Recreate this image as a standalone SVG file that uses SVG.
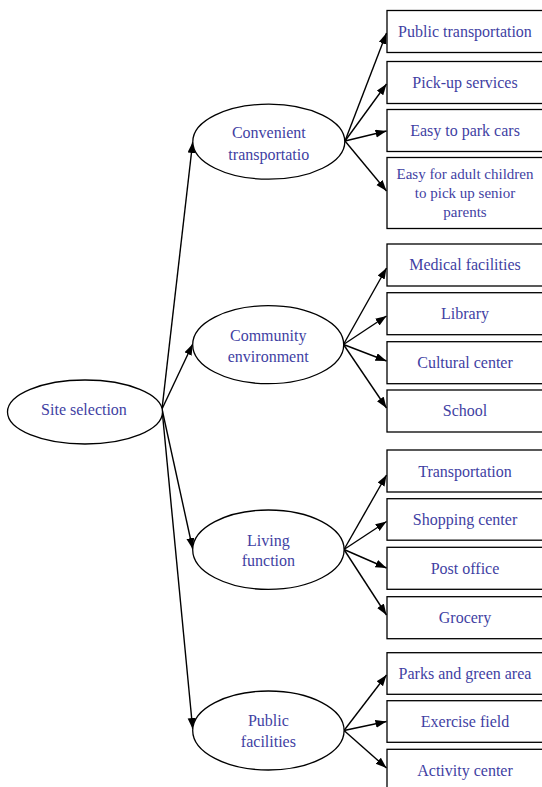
<svg xmlns="http://www.w3.org/2000/svg" width="542" height="787" viewBox="0 0 542 787">
  <defs>
    <marker id="arrow" markerUnits="userSpaceOnUse" markerWidth="12" markerHeight="9" refX="11" refY="4" orient="auto">
      <path d="M0,0 L11,4 L0,8 z" fill="#000"/>
    </marker>
    <style>
      .node ellipse, .node rect { fill: #fff; stroke: #000; stroke-width: 1.3; }
      .node text { font-family: "Liberation Serif", "Times New Roman", serif; font-size: 16px; fill: #3f3fa3; text-anchor: middle; }
      .node text.small { font-size: 15px; }
      .edges line { stroke: #000; stroke-width: 1.4; marker-end: url(#arrow); }
    </style>
  </defs>
  <rect width="542" height="787" fill="#fff"/>

  <!-- connectors -->
  <g id="edges" class="edges">
    <!-- root to categories -->
    <line x1="162" y1="409" x2="192.7" y2="142"/>
    <line x1="162" y1="409" x2="192.7" y2="344"/>
    <line x1="162" y1="409" x2="192.7" y2="549"/>
    <line x1="162" y1="409" x2="192.7" y2="729"/>
    <!-- Convenient transportation -->
    <line x1="345" y1="141" x2="386.5" y2="33"/>
    <line x1="345" y1="141" x2="386.5" y2="84"/>
    <line x1="345" y1="141" x2="386.5" y2="131"/>
    <line x1="345" y1="141" x2="386.5" y2="191"/>
    <!-- Community environment -->
    <line x1="343.5" y1="344.5" x2="386.5" y2="268"/>
    <line x1="343.5" y1="344.5" x2="386.5" y2="316"/>
    <line x1="343.5" y1="344.5" x2="386.5" y2="361"/>
    <line x1="343.5" y1="344.5" x2="386.5" y2="408"/>
    <!-- Living function -->
    <line x1="344" y1="549.5" x2="386.5" y2="475"/>
    <line x1="344" y1="549.5" x2="386.5" y2="521.5"/>
    <line x1="344" y1="549.5" x2="386.5" y2="568"/>
    <line x1="344" y1="549.5" x2="386.5" y2="615"/>
    <!-- Public facilities -->
    <line x1="344" y1="730.5" x2="386.5" y2="675"/>
    <line x1="344" y1="730.5" x2="386.5" y2="721.5"/>
    <line x1="344" y1="730.5" x2="386.5" y2="768"/>
  </g>

  <!-- root -->
  <g id="site-selection" class="node">
    <ellipse cx="85" cy="412" rx="77.5" ry="32"/>
    <text x="84" y="415">Site selection</text>
  </g>

  <!-- categories -->
  <g id="convenient-transportation" class="node">
    <ellipse cx="268.8" cy="141.7" rx="76" ry="37.5"/>
    <text x="268.8" y="138.3">Convenient</text>
    <text x="268.8" y="159.5">transportatio</text>
  </g>
  <g id="community-environment" class="node">
    <ellipse cx="268.2" cy="344.7" rx="75.5" ry="39"/>
    <text x="268.2" y="341">Community</text>
    <text x="268.2" y="361.7">environment</text>
  </g>
  <g id="living-function" class="node">
    <ellipse cx="268.4" cy="549.7" rx="75.7" ry="39.7"/>
    <text x="268.4" y="545.7">Living</text>
    <text x="268.4" y="565.5">function</text>
  </g>
  <g id="public-facilities" class="node">
    <ellipse cx="268.4" cy="730.5" rx="75.7" ry="39.5"/>
    <text x="268.4" y="725.7">Public</text>
    <text x="268.4" y="747.3">facilities</text>
  </g>

  <!-- Convenient transportation items -->
  <g id="public-transportation" class="node">
    <rect x="387" y="10.5" width="156" height="42"/>
    <text x="465" y="36.8">Public transportation</text>
  </g>
  <g id="pick-up-services" class="node">
    <rect x="387" y="61.5" width="156" height="42"/>
    <text x="465" y="87.8">Pick-up services</text>
  </g>
  <g id="easy-to-park-cars" class="node">
    <rect x="387" y="109.5" width="156" height="42"/>
    <text x="465" y="136">Easy to park cars</text>
  </g>
  <g id="easy-pick-up-parents" class="node">
    <rect x="387" y="157.5" width="156" height="71"/>
    <text class="small" x="465" y="179">Easy for adult children</text>
    <text class="small" x="465" y="198">to pick up senior</text>
    <text class="small" x="465" y="217">parents</text>
  </g>

  <!-- Community environment items -->
  <g id="medical-facilities" class="node">
    <rect x="387" y="244" width="156" height="42"/>
    <text x="465" y="270">Medical facilities</text>
  </g>
  <g id="library" class="node">
    <rect x="387" y="292.7" width="156" height="42"/>
    <text x="465" y="319.2">Library</text>
  </g>
  <g id="cultural-center" class="node">
    <rect x="387" y="341.7" width="156" height="42"/>
    <text x="465" y="368.2">Cultural center</text>
  </g>
  <g id="school" class="node">
    <rect x="387" y="390" width="156" height="42"/>
    <text x="465" y="416.4">School</text>
  </g>

  <!-- Living function items -->
  <g id="transportation" class="node">
    <rect x="387" y="450" width="156" height="42"/>
    <text x="465" y="476.7">Transportation</text>
  </g>
  <g id="shopping-center" class="node">
    <rect x="387" y="498.7" width="156" height="41.5"/>
    <text x="465" y="524.9">Shopping center</text>
  </g>
  <g id="post-office" class="node">
    <rect x="387" y="547.3" width="156" height="42"/>
    <text x="465" y="573.8">Post office</text>
  </g>
  <g id="grocery" class="node">
    <rect x="387" y="596.7" width="156" height="42"/>
    <text x="465" y="623.2">Grocery</text>
  </g>

  <!-- Public facilities items -->
  <g id="parks-green-area" class="node">
    <rect x="387" y="652.7" width="156" height="41.6"/>
    <text x="465" y="679">Parks and green area</text>
  </g>
  <g id="exercise-field" class="node">
    <rect x="387" y="700.7" width="156" height="41.6"/>
    <text x="465" y="727">Exercise field</text>
  </g>
  <g id="activity-center" class="node">
    <rect x="387" y="749.3" width="156" height="45"/>
    <text x="465" y="776">Activity center</text>
  </g>
</svg>
